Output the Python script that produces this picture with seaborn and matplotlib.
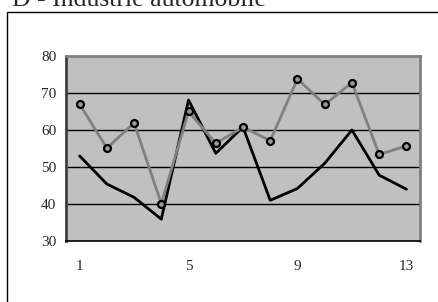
import numpy as np
import pandas as pd
import matplotlib
matplotlib.use("Agg")
import matplotlib.pyplot as plt
import seaborn as sns
from matplotlib.patches import Rectangle

# données
periods = list(range(1, 14))
serie_grise = [67.0, 55.1, 61.9, 40.1, 65.0, 56.4, 60.8, 57.1, 73.8, 66.9, 72.8, 53.4, 55.7]
serie_noire = [53.0, 45.4, 41.8, 35.9, 68.1, 53.7, 60.8, 41.0, 44.2, 51.0, 60.0, 47.8, 44.0]
x_labels = [1, 5, 9, 13]
y_ticks = [30, 40, 50, 60, 70, 80]
titre = "D - Industrie automobile"

df = pd.DataFrame({"t": periods, "grise": serie_grise, "noire": serie_noire})

sns.set_style("white")
plt.rcParams["font.family"] = ["Liberation Serif", "DejaVu Serif"]

W, H = 438, 302
fig = plt.figure(figsize=(W / 100, H / 100), dpi=100)

# cadre extérieur (coupé à droite et en bas, comme l'original)
fig.patches.append(Rectangle((7 / W, -0.1), 1.2, 1 - 12 / H + 0.1,
                             transform=fig.transFigure, fill=False,
                             edgecolor="black", linewidth=1.0))
# titre coupé par le haut de l'image, comme dans l'original
fig.text(12 / W, 1 - 6.5 / H, titre, fontsize=18.5, va="baseline", ha="left")

ax = fig.add_axes([66 / W, 1 - 241 / H, (420 - 66) / W, (241 - 56) / H])
ax.set_facecolor("#c0c0c0")

for v in y_ticks[1:-1]:
    ax.axhline(v, color="black", linewidth=1.0, zorder=1)

sns.lineplot(data=df, x="t", y="noire", ax=ax, color="black", linewidth=2.0, zorder=3)
sns.lineplot(data=df, x="t", y="grise", ax=ax, color="#808080", linewidth=2.0,
             marker="o", markersize=5, markerfacecolor="#9a9a9a",
             markeredgecolor="black", markeredgewidth=1.6, zorder=4)

ax.set_xlim(0.5, 13.5)
ax.set_ylim(30, 80)
ax.set_xlabel("")
ax.set_ylabel("")

ax.set_xticks(x_labels)
ax.set_xticklabels([str(v) for v in x_labels])
ax.set_xticks(np.arange(0.5, 14, 1), minor=True)
ax.tick_params(axis="x", which="major", length=0, pad=14, labelsize=11)
ax.tick_params(axis="x", which="minor", length=4, width=1, direction="out", color="black")
ax.set_yticks(y_ticks)
ax.tick_params(axis="y", length=4, width=1, direction="out", color="black", labelsize=11, pad=3)

for side in ["top", "right", "left"]:
    ax.spines[side].set_color("#808080")
    ax.spines[side].set_linewidth(2)
ax.spines["left"].set_color("#404040")
ax.spines["bottom"].set_color("black")
ax.spines["bottom"].set_linewidth(1.2)

fig.savefig("out.png", dpi=100)
